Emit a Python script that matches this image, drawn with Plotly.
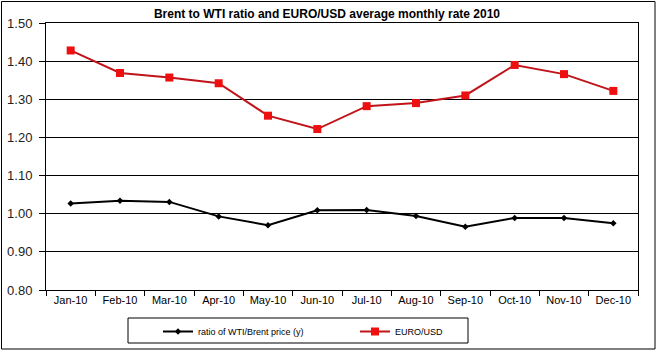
import plotly.graph_objects as go

months = ["Jan-10", "Feb-10", "Mar-10", "Apr-10", "May-10", "Jun-10",
          "Jul-10", "Aug-10", "Sep-10", "Oct-10", "Nov-10", "Dec-10"]
ratio = [1.027, 1.034, 1.031, 0.993, 0.970, 1.009, 1.010, 0.994, 0.966, 0.989, 0.989, 0.975]
eurusd = [1.428, 1.369, 1.357, 1.342, 1.257, 1.222, 1.282, 1.290, 1.310, 1.390, 1.366, 1.322]

fig = go.Figure()
fig.add_trace(go.Scatter(
    x=months, y=ratio, mode="lines+markers", name="ratio of WTI/Brent price (y)",
    line=dict(color="black", width=2),
    marker=dict(symbol="diamond", size=5, color="black"),
))
fig.add_trace(go.Scatter(
    x=months, y=eurusd, mode="lines+markers", name="EURO/USD",
    line=dict(color="#c0141a", width=2),
    marker=dict(symbol="square", size=8, color="#ee1010"),
))

W, H = 657, 352
L, R, T, B = 46, 19, 23, 62
pw, ph = W - L - R, H - T - B

def px(x):
    return (x - L) / pw

def py(y):
    return (H - B - y) / ph

fig.update_layout(
    width=W, height=H,
    margin=dict(l=L, r=R, t=T, b=B, autoexpand=False),
    paper_bgcolor="white", plot_bgcolor="white",
    font=dict(family="Liberation Sans, Arial", color="black"),
    title=dict(text="<b>Brent to WTI ratio and EURO/USD average monthly rate 2010</b>",
               x=px(327), xref="paper", xanchor="center",
               y=1 - 14 / H, yanchor="middle",
               font=dict(size=12, family="Liberation Sans Narrow, Liberation Sans, Arial")),
    showlegend=True,
    legend=dict(orientation="h", x=px(158), xanchor="left", y=py(317), yanchor="top",
                bgcolor="rgba(0,0,0,0)", borderwidth=0,
                font=dict(size=9, family="Liberation Sans Narrow, Liberation Sans, Arial"),
                entrywidth=152, entrywidthmode="pixels", itemwidth=30),
    shapes=[
        dict(type="rect", xref="paper", yref="paper",
             x0=px(1.5), x1=px(655), y0=py(349), y1=py(1.5),
             line=dict(color="black", width=1), layer="below"),
        dict(type="rect", xref="paper", yref="paper",
             x0=px(128), x1=px(468), y0=py(343), y1=py(318),
             line=dict(color="black", width=1), layer="below"),
    ],
)

fig.update_xaxes(
    type="category", tickson="boundaries", ticks="outside", ticklen=5,
    tickcolor="black", showline=True, linecolor="black", linewidth=1, mirror=True,
    showgrid=False, tickfont=dict(size=11, family="Liberation Sans Narrow, Liberation Sans, Arial"),
    range=[-0.5, 11.5],
)
fig.update_yaxes(
    range=[0.8, 1.5], dtick=0.1, tickformat=".2f", ticks="outside", ticklen=6,
    tickcolor="black", showline=True, linecolor="black", linewidth=1, mirror=True,
    showgrid=True, gridcolor="black", gridwidth=1, zeroline=False,
    tickfont=dict(size=13, color="#222222"), ticklabelstandoff=4,
)

fig.write_html("out.html")
